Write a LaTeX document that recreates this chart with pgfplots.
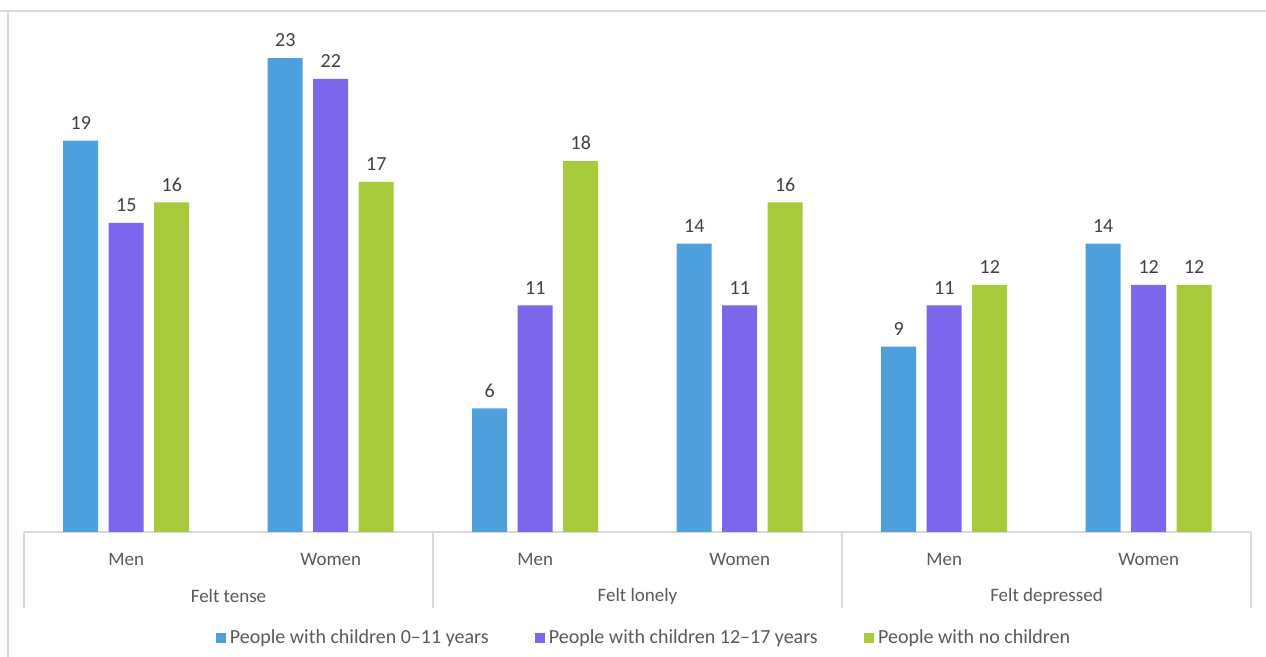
\documentclass[border=0pt]{standalone}
\usepackage{pgfplots}
\pgfplotsset{compat=1.18}
\usepackage{fontspec}
\setmainfont{Carlito}

\definecolor{cBlue}{RGB}{78,160,220}
\definecolor{cPurple}{RGB}{123,102,236}
\definecolor{cGreen}{RGB}{166,202,58}
\definecolor{cFrame}{RGB}{217,217,217}
\definecolor{cText}{RGB}{64,64,64}
\definecolor{cAxis}{RGB}{89,89,89}

% Share of respondents (%) by group; x = 0..5 (Men/Women within each feeling)
\pgfplotstableread{
x young teen none
0 19 15 16
1 23 22 17
2 6  11 18
3 14 11 16
4 9  11 12
5 14 12 12
}\feelings

\begin{document}
\begin{tikzpicture}[x=1pt,y=1pt]
% page frame: 1px = 0.5pt
\useasboundingbox (0,0) rectangle (633,328.5);
\draw[cFrame,line width=1pt] (0,323) -- (633,323);
\draw[cFrame,line width=1pt] (4,323) -- (4,0);

\begin{axis}[
  at={(12pt,62.5pt)}, anchor=south west,
  scale only axis,
  width=613.5pt, height=257.5pt,
  xmin=-0.5, xmax=5.5, ymin=0, ymax=25,
  ybar=5.25pt, bar width=17.5pt,
  axis y line=none,
  axis x line*=bottom,
  x axis line style={cFrame, line width=0.8pt, -},
  xtick=data,
  xticklabels={Men,Women,Men,Women,Men,Women},
  xtick style={draw=none},
  xticklabel style={font=\fontsize{9.5}{11}\selectfont, text=cAxis, yshift=-3pt},
  /pgf/number format/assume math mode=true,
  clip=false,
  nodes near coords,
  every node near coord/.append style={font=\fontsize{10}{12}\selectfont, text=cText, yshift=2pt},
  legend columns=3,
  legend style={draw=none, fill=none, at={(0.506,-0.206)}, anchor=center,
    font=\fontsize{10}{12}\selectfont, text=cAxis,
    /tikz/every even column/.append style={column sep=21pt}},
  legend image code/.code={\fill[#1] (0pt,-2.6pt) rectangle (5.2pt,2.6pt);},
]
\addplot[draw=none, fill=cBlue]   table[x=x,y=young] {\feelings};
\addplot[draw=none, fill=cPurple] table[x=x,y=teen]  {\feelings};
\addplot[draw=none, fill=cGreen]  table[x=x,y=none]  {\feelings};
\legend{People with children 0--11 years, People with children 12--17 years, People with no children}

% group separators and group names
\pgfplotsinvokeforeach{-0.5,1.5,3.5,5.5}{
  \draw[cFrame, line width=0.8pt] (axis cs:#1,0) -- ([yshift=-38pt]axis cs:#1,0);
}
\node[font=\fontsize{9.5}{11}\selectfont, text=cAxis] at ([yshift=-32pt]axis cs:0.5,0) {Felt tense};
\node[font=\fontsize{9.5}{11}\selectfont, text=cAxis] at ([yshift=-32pt]axis cs:2.5,0) {Felt lonely};
\node[font=\fontsize{9.5}{11}\selectfont, text=cAxis] at ([yshift=-32pt]axis cs:4.5,0) {Felt depressed};
\end{axis}
\end{tikzpicture}
\end{document}
